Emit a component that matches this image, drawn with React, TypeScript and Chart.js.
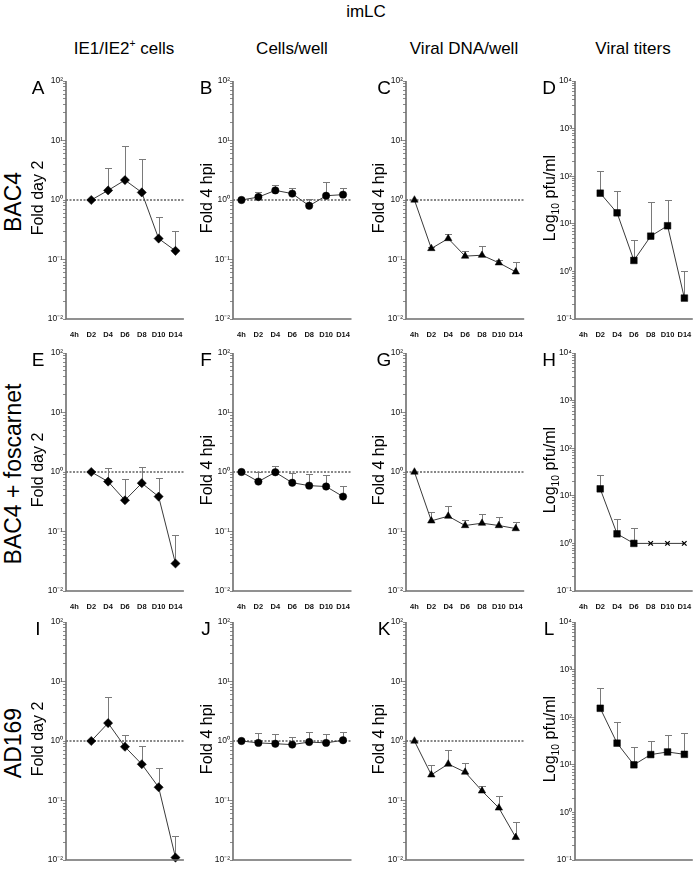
import React, { useEffect, useRef } from 'react';
import { Chart, registerables } from 'chart.js';

Chart.register(...registerables);

const FONT = '"Liberation Sans", Arial, Helvetica, sans-serif';

// ---------- categories & ticks ----------
const timepoints = ['4h', 'D2', 'D4', 'D6', 'D8', 'D10', 'D14'];
const foldMajorTicks = [0.01, 0.1, 1, 10, 100];
const foldTickLabels = ['10⁻²', '10⁻¹', '10⁰', '10¹', '10²'];
const titerMajorTicks = [0.1, 1, 10, 100, 1000, 10000];
const titerTickLabels = ['10⁻¹', '10⁰', '10¹', '10²', '10³', '10⁴'];

const mainTitle = 'imLC';
const columnTitles = ['IE1/IE2+ cells', 'Cells/well', 'Viral DNA/well', 'Viral titers'];
const rowTitles = ['BAC4', 'BAC4 + foscarnet', 'AD169'];
const panelLetters = ['A', 'B', 'C', 'D', 'E', 'F', 'G', 'H', 'I', 'J', 'K', 'L'];
const yAxisTitles = ['Fold day 2', 'Fold 4 hpi', 'Fold 4 hpi', 'Log10 pfu/ml'];

// ---------- series (mean, upper error) ----------
// BAC4
const ie1Bac4 = [null, 1.0, 1.45, 2.16, 1.34, 0.225, 0.14];
const ie1Bac4Err = [null, null, 3.4, 8.1, 4.8, 0.51, 0.3];
const cellsBac4 = [1.0, 1.12, 1.45, 1.28, 0.8, 1.18, 1.23];
const cellsBac4Err = [null, 1.36, 1.76, 1.59, 1.04, 2.0, 1.57];
const dnaBac4 = [1.0, 0.153, 0.225, 0.114, 0.118, 0.088, 0.062];
const dnaBac4Err = [null, 0.16, 0.273, 0.138, 0.167, 0.099, 0.09];
const titerBac4 = [null, 44, 17, 1.7, 5.5, 9.1, 0.275];
const titerBac4Err = [null, 128, 50, 4.6, 29, 32, 1.0];
// BAC4 + foscarnet
const ie1Fos = [null, 1.0, 0.69, 0.335, 0.65, 0.386, 0.029];
const ie1FosErr = [null, null, 1.15, 0.75, 1.21, 0.79, 0.088];
const cellsFos = [1.0, 0.69, 0.99, 0.66, 0.59, 0.57, 0.386];
const cellsFosErr = [null, 0.99, 1.28, 0.96, 0.93, 0.89, 0.58];
const dnaFos = [1.0, 0.151, 0.181, 0.126, 0.138, 0.126, 0.112];
const dnaFosErr = [null, 0.216, 0.273, 0.159, 0.2, 0.176, 0.147];
const titerFos = [null, 14, 1.59, 1.0, 1.0, 1.0, 1.0];
const titerFosErr = [null, 28, 3.2, 2.1, null, null, null];
const titerFosMarkers = ['rect', 'rect', 'rect', 'rect', 'crossRot', 'crossRot', 'crossRot'];
// AD169
const ie1Ad = [null, 1.0, 2.0, 0.8, 0.407, 0.167, 0.011];
const ie1AdErr = [null, null, 5.5, 1.24, 0.835, 0.348, 0.025];
const cellsAd = [1.0, 0.93, 0.9, 0.87, 0.96, 0.93, 1.03];
const cellsAdErr = [null, 1.34, 1.31, 1.17, 1.43, 1.33, 1.43];
const dnaAd = [1.0, 0.27, 0.41, 0.3, 0.145, 0.075, 0.024];
const dnaAdErr = [null, 0.4, 0.71, 0.42, 0.174, 0.121, 0.044];
const titerAd = [null, 154, 28.5, 10, 16.4, 18.6, 16.6];
const titerAdErr = [null, 420, 80, 23.7, 32, 42.5, 47];

// ---------- layout ----------
const COL_X = [66, 233, 406, 575];
const ROW_TOP = [81, 353, 622];
const PLOT_W = 119;
const PLOT_H = 238;
const PAD_L = 30;
const PAD_T = 8;
const PAD_R = 4;
const PAD_B = 18;
const LETTER_X = [38, 206, 384, 549];
const YTITLE_X = [38, 207, 379, 550];

const columnMarkers = ['rectRot', 'circle', 'triangle', 'rect'];
const markerRadius: Record<string, number> = { rectRot: 4.6, circle: 3.7, triangle: 4.3, rect: 4.7, crossRot: 3.2 };

type PanelCfg = {
  values: (number | null)[];
  errors: (number | null)[];
  markers: string[];
  fold: boolean;
  row: number;
  col: number;
};

const rowsData = [
  [[ie1Bac4, ie1Bac4Err], [cellsBac4, cellsBac4Err], [dnaBac4, dnaBac4Err], [titerBac4, titerBac4Err]],
  [[ie1Fos, ie1FosErr], [cellsFos, cellsFosErr], [dnaFos, dnaFosErr], [titerFos, titerFosErr]],
  [[ie1Ad, ie1AdErr], [cellsAd, cellsAdErr], [dnaAd, dnaAdErr], [titerAd, titerAdErr]],
];

const panels: PanelCfg[] = [];
rowsData.forEach((row, r) =>
  row.forEach(([vals, errs], c) => {
    const markers =
      r === 1 && c === 3 ? titerFosMarkers : timepoints.map(() => columnMarkers[c]);
    panels.push({ values: vals as any, errors: errs as any, markers, fold: c < 3, row: r, col: c });
  })
);

function allLogTicks(majors: number[]) {
  const out: number[] = [];
  for (let i = 0; i < majors.length - 1; i++) {
    for (let k = 1; k <= 9; k++) out.push(Number((majors[i] * k).toPrecision(6)));
  }
  out.push(majors[majors.length - 1]);
  return out;
}

const axisLinesPlugin = {
  id: 'axisLines',
  afterDraw(chart: any) {
    const { ctx, chartArea } = chart;
    ctx.save();
    ctx.strokeStyle = '#6e6e6e';
    ctx.lineWidth = 1.6;
    ctx.beginPath();
    ctx.moveTo(chartArea.left, chartArea.top);
    ctx.lineTo(chartArea.left, chartArea.bottom);
    ctx.lineTo(chartArea.right, chartArea.bottom);
    ctx.stroke();
    ctx.restore();
  },
};

const refLinePlugin = {
  id: 'refLine',
  beforeDatasetsDraw(chart: any, _a: any, opts: any) {
    if (!opts || !opts.show) return;
    const { ctx, chartArea, scales } = chart;
    const y = scales.y.getPixelForValue(opts.value);
    ctx.save();
    ctx.strokeStyle = '#606060';
    ctx.lineWidth = 1.5;
    ctx.setLineDash([2, 1.5]);
    ctx.beginPath();
    ctx.moveTo(chartArea.left, y);
    ctx.lineTo(chartArea.right, y);
    ctx.stroke();
    ctx.restore();
  },
};

const errorBarPlugin = {
  id: 'errorBars',
  beforeDatasetsDraw(chart: any, _a: any, opts: any) {
    if (!opts || !opts.upper) return;
    const { ctx, scales } = chart;
    const vals = chart.data.datasets[0].data;
    ctx.save();
    ctx.strokeStyle = '#7a7a7a';
    ctx.lineWidth = 1;
    opts.upper.forEach((u: number | null, i: number) => {
      const v = vals[i];
      if (u == null || v == null) return;
      const x = Math.round(scales.x.getPixelForValue(i)) + 0.5;
      const y0 = scales.y.getPixelForValue(v);
      const y1 = Math.round(scales.y.getPixelForValue(u)) + 0.5;
      ctx.beginPath();
      ctx.moveTo(x, y0);
      ctx.lineTo(x, y1);
      ctx.moveTo(x - 3.5, y1);
      ctx.lineTo(x + 3.5, y1);
      ctx.stroke();
    });
    ctx.restore();
  },
};

function Panel({ cfg }: { cfg: PanelCfg }) {
  const ref = useRef<HTMLCanvasElement>(null);
  const width = PAD_L + PLOT_W + PAD_R;
  const height = PAD_T + PLOT_H + PAD_B;
  useEffect(() => {
    const majors = cfg.fold ? foldMajorTicks : titerMajorTicks;
    const labels = cfg.fold ? foldTickLabels : titerTickLabels;
    const ticksAll = allLogTicks(majors);
    const chart = new Chart(ref.current as HTMLCanvasElement, {
      type: 'line',
      data: {
        labels: timepoints,
        datasets: [
          {
            data: cfg.values as any,
            borderColor: '#3a3a3a',
            borderWidth: 1,
            pointStyle: cfg.markers as any,
            pointRadius: cfg.markers.map((m) => markerRadius[m]) as any,
            pointBackgroundColor: '#000',
            pointBorderColor: '#000',
            pointBorderWidth: cfg.markers.map((m) => (m === 'crossRot' ? 1.3 : 0.5)) as any,
            clip: false as any,
            tension: 0,
          },
        ],
      },
      options: {
        responsive: false,
        animation: false,
        devicePixelRatio: 1,
        layout: { padding: { left: 0, top: PAD_T, right: PAD_R, bottom: 0 } },
        plugins: {
          legend: { display: false },
          tooltip: { enabled: false },
          refLine: { show: cfg.fold, value: 1 },
          errorBars: { upper: cfg.errors },
        } as any,
        scales: {
          x: {
            type: 'category',
            offset: true,
            grid: { display: false },
            border: { display: false },
            ticks: {
              color: '#111',
              font: { family: FONT, size: 7.5, weight: 'bold' },
              padding: 3,
              autoSkip: false,
              maxRotation: 0,
              minRotation: 0,
            },
            afterFit: (s: any) => {
              s.height = PAD_B;
            },
          },
          y: {
            type: 'logarithmic',
            min: majors[0],
            max: majors[majors.length - 1],
            grid: {
              display: true,
              drawOnChartArea: false,
              drawTicks: true,
              tickLength: 3,
              color: '#8a8a8a',
              lineWidth: 1,
            },
            border: { display: false },
            ticks: {
              color: '#111',
              font: { family: FONT, size: 8.5 },
              padding: 0,
              autoSkip: false,
              callback: (value: any) => {
                const v = Number(value);
                const i = majors.findIndex((m) => Math.abs(v - m) <= m * 1e-6);
                return i >= 0 ? labels[i] : '';
              },
            },
            afterBuildTicks: (s: any) => {
              s.ticks = ticksAll.map((v) => ({ value: v }));
            },
            afterFit: (s: any) => {
              s.width = PAD_L;
            },
          },
        },
      },
      plugins: [refLinePlugin, errorBarPlugin, axisLinesPlugin],
    } as any);
    return () => chart.destroy();
  }, [cfg]);
  return (
    <canvas
      ref={ref}
      width={width}
      height={height}
      style={{
        position: 'absolute',
        left: COL_X[cfg.col] - PAD_L,
        top: ROW_TOP[cfg.row] - PAD_T,
        width,
        height,
      }}
    />
  );
}

function renderColumnTitle(t: string) {
  const idx = t.indexOf('+');
  if (idx < 0) return t;
  return (
    <>
      {t.slice(0, idx)}
      <sup style={{ fontSize: '0.6em', lineHeight: 0 }}>+</sup>
      {t.slice(idx + 1)}
    </>
  );
}

function renderAxisTitle(t: string) {
  if (t.startsWith('Log10')) {
    return (
      <>
        Log<sub style={{ fontSize: '0.65em', lineHeight: 0 }}>10</sub>
        {t.slice(5)}
      </>
    );
  }
  return t;
}

const textBase: React.CSSProperties = {
  position: 'absolute',
  fontFamily: FONT,
  color: '#000',
  whiteSpace: 'nowrap',
  lineHeight: 1,
};

export default function App() {
  useEffect(() => {
    document.body.style.margin = '0';
    document.body.style.overflow = 'hidden';
  }, []);
  return (
    <div style={{ position: 'relative', width: 696, height: 871, overflow: 'hidden', background: '#fff' }}>
      <div style={{ ...textBase, left: 366, top: 11, fontSize: 17, transform: 'translate(-50%,-50%)' }}>{mainTitle}</div>
      {columnTitles.map((t, c) => (
        <div
          key={'ct' + c}
          style={{ ...textBase, left: [124, 292, 464, 633][c], top: 48, fontSize: 17, transform: 'translate(-50%,-50%)' }}
        >
          {renderColumnTitle(t)}
        </div>
      ))}
      {rowTitles.map((t, r) => (
        <div
          key={'rt' + r}
          style={{
            ...textBase,
            left: 13,
            top: ROW_TOP[r] + 121,
            fontSize: 23,
            transform: 'translate(-50%,-50%) rotate(-90deg)',
          }}
        >
          {t}
        </div>
      ))}
      {panels.map((p, i) => (
        <Panel key={'p' + i} cfg={p} />
      ))}
      {panels.map((p, i) => (
        <div
          key={'l' + i}
          style={{
            ...textBase,
            left: LETTER_X[p.col],
            top: ROW_TOP[p.row] + 6,
            fontSize: 19,
            transform: 'translate(-50%,-50%)',
          }}
        >
          {panelLetters[i]}
        </div>
      ))}
      {panels.map((p, i) => (
        <div
          key={'y' + i}
          style={{
            ...textBase,
            left: YTITLE_X[p.col],
            top: ROW_TOP[p.row] + 117,
            fontSize: 16,
            transform: 'translate(-50%,-50%) rotate(-90deg)',
          }}
        >
          {renderAxisTitle(yAxisTitles[p.col])}
        </div>
      ))}
    </div>
  );
}
